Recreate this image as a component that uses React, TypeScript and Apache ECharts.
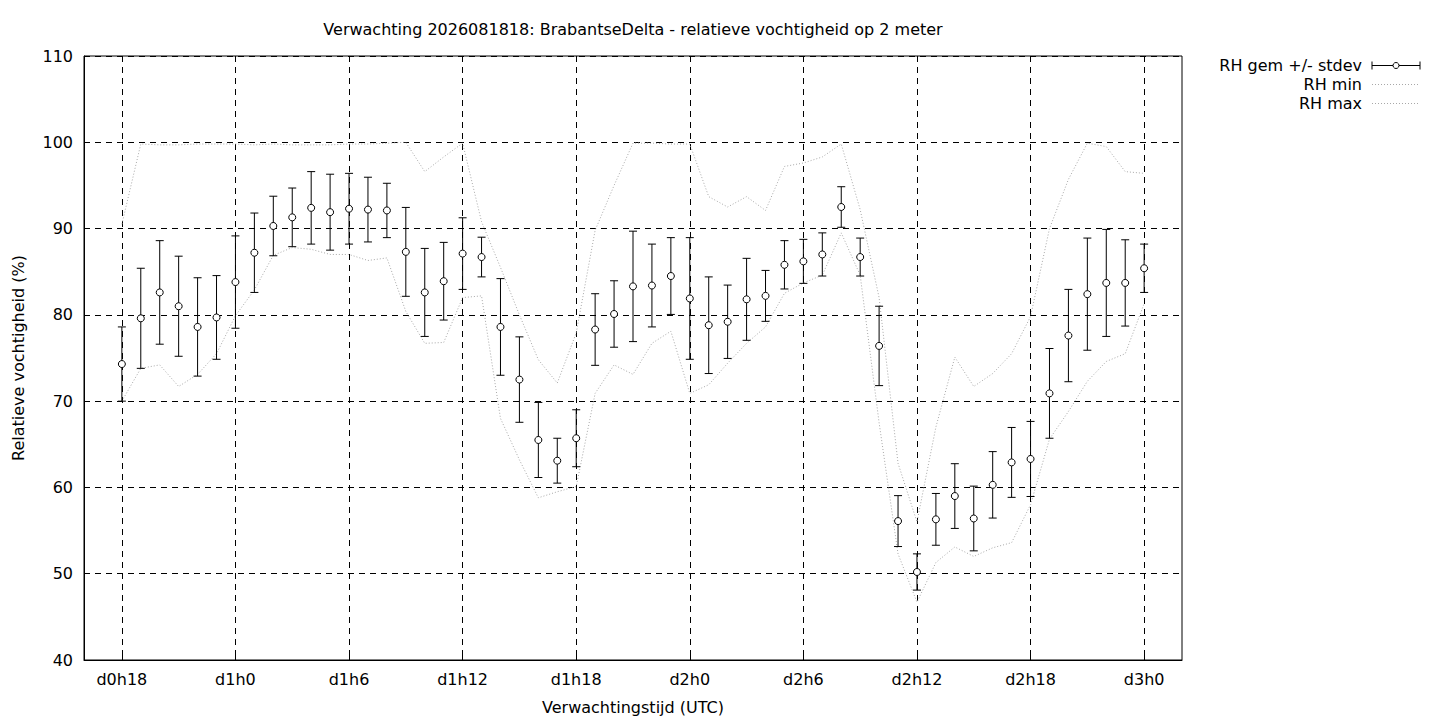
import React, { useEffect, useRef } from 'react';
import * as echarts from 'echarts';

// hours since d0h18
const hours = [
  0, 1, 2, 3, 4, 5, 6, 7, 8, 9, 10, 11, 12, 13, 14, 15, 16, 17, 18, 19,
  20, 21, 22, 23, 24, 25, 26, 27, 28, 29, 30, 31, 32, 33, 34, 35, 36, 37, 38, 39,
  40, 41, 42, 43, 44, 45, 46, 47, 48, 49, 50, 51, 52, 53, 54,
];

const tickHours = [0, 6, 12, 18, 24, 30, 36, 42, 48, 54];
const tickLabels = ['d0h18', 'd1h0', 'd1h6', 'd1h12', 'd1h18', 'd2h0', 'd2h6', 'd2h12', 'd2h18', 'd3h0'];

const rhMean = [
  74.3, 79.6, 82.6, 81.0, 78.6, 79.7, 83.8, 87.2, 90.3, 91.3,
  92.4, 91.9, 92.3, 92.2, 92.1, 87.3, 82.6, 83.9, 87.1, 86.7,
  78.6, 72.5, 65.5, 63.1, 65.7, 78.3, 80.1, 83.3, 83.4, 84.5,
  81.9, 78.8, 79.2, 81.8, 82.2, 85.8, 86.2, 87.0, 92.5, 86.7,
  76.4, 56.1, 50.2, 56.3, 59.0, 56.4, 60.3, 62.9, 63.3, 70.9,
  77.6, 82.4, 83.7, 83.7, 85.4,
];

const rhStdev = [
  4.3, 5.8, 6.0, 5.8, 5.7, 4.85, 5.35, 4.6, 3.45, 3.4,
  4.2, 4.4, 4.1, 3.75, 3.15, 5.15, 5.1, 4.5, 4.15, 2.3,
  5.6, 4.95, 4.35, 2.6, 3.3, 4.15, 3.85, 6.4, 4.8, 4.45,
  7.05, 5.6, 4.25, 4.75, 2.95, 2.8, 2.55, 2.5, 2.35, 2.2,
  4.6, 2.95, 2.1, 3.0, 3.75, 3.75, 3.85, 4.05, 4.35, 5.2,
  5.35, 6.5, 6.2, 5.0, 2.8,
];

const rhMin = [
  70.0, 73.8, 74.2, 71.7, 73.1, 75.5, 79.9, 82.9, 86.9, 87.8,
  87.6, 87.0, 87.0, 86.3, 86.6, 80.4, 76.7, 76.8, 82.0, 82.2,
  68.0, 63.2, 58.8, 59.5, 60.1, 70.9, 74.2, 73.1, 76.7, 78.1,
  70.9, 71.9, 74.4, 76.7, 78.6, 82.5, 83.7, 84.6, 89.5, 84.6,
  67.5, 52.3, 46.7, 51.3, 53.1, 52.0, 53.0, 53.6, 58.0, 65.6,
  68.8, 72.3, 74.6, 75.5, 81.3,
];

const rhMax = [
  90.5, 99.8, 99.7, 99.7, 99.8, 99.8, 99.8, 99.7, 99.8, 99.7,
  99.7, 99.7, 99.8, 99.8, 99.9, 100.0, 96.6, 98.3, 99.9, 90.8,
  85.5, 80.0, 74.8, 72.1, 77.9, 89.8, 95.0, 99.9, 99.9, 99.8,
  99.8, 93.7, 92.5, 93.7, 92.1, 97.2, 97.6, 98.3, 99.8, 92.2,
  82.0, 62.8, 56.0, 67.0, 75.1, 71.7, 73.2, 75.5, 79.8, 90.0,
  95.7, 99.9, 99.5, 96.6, 96.4,
];

const FONT = 'DejaVu Sans';
const FS = 16;
const TITLE = 'Verwachting 2026081818: BrabantseDelta - relatieve vochtigheid op 2 meter';
const legendNames = ['RH gem +/- stdev', 'RH min', 'RH max'];

const GRID = { left: 84, top: 56, width: 1098, height: 604 };
const DOT_COLOR = '#a8a8a8';
const DOT_DASH = [1, 2];
const GRID_DASH = [6, 5];

export default function App() {
  const ref = useRef<HTMLDivElement>(null);

  useEffect(() => {
    if (!ref.current) return;
    const chart = echarts.init(ref.current, undefined, { renderer: 'svg' });

    const errData = hours.map((h, i) => [h, rhMean[i] - rhStdev[i], rhMean[i] + rhStdev[i]]);
    const meanData = hours.map((h, i) => [h, rhMean[i]]);
    const minData = hours.map((h, i) => [h, rhMin[i]]);
    const maxData = hours.map((h, i) => [h, rhMax[i]]);

    const lx1 = 1372;
    const lx2 = 1420;
    const ltx = 1362;
    const ly = [65.5, 84.5, 103.5];
    const textStyle = (t: string, y: number) => ({
      type: 'text',
      x: ltx,
      y,
      style: {
        text: t,
        fill: '#000',
        fontSize: FS,
        fontFamily: FONT,
        align: 'right',
        verticalAlign: 'middle',
      },
    });

    const option: any = {
      animation: false,
      backgroundColor: '#fff',
      grid: {
        left: GRID.left,
        top: GRID.top,
        width: GRID.width,
        height: GRID.height,
        show: true,
        borderColor: '#000',
        borderWidth: 1,
        backgroundColor: 'transparent',
      },
      xAxis: {
        type: 'value',
        min: -2,
        max: 56,
        name: 'Verwachtingstijd (UTC)',
        nameLocation: 'middle',
        nameGap: 39,
        nameTextStyle: { color: '#000', fontSize: FS, fontFamily: FONT },
        axisLine: { show: true, onZero: false, lineStyle: { color: '#000', width: 1 } },
        axisTick: {
          show: true,
          inside: true,
          length: 6,
          customValues: tickHours,
          lineStyle: { color: '#000', width: 1 },
        },
        axisLabel: {
          customValues: tickHours,
          formatter: (v: number) => {
            const k = tickHours.indexOf(v);
            return k >= 0 ? tickLabels[k] : '';
          },
          margin: 11,
          color: '#000',
          fontSize: FS,
          fontFamily: FONT,
        },
        splitLine: {
          show: true,
          lineStyle: { color: '#000', width: 1, type: GRID_DASH },
        },
      },
      yAxis: {
        type: 'value',
        min: 40,
        max: 110,
        interval: 10,
        name: 'Relatieve vochtigheid (%)',
        nameLocation: 'middle',
        nameGap: 58,
        nameTextStyle: { color: '#000', fontSize: FS, fontFamily: FONT },
        axisLine: { show: true, onZero: false, lineStyle: { color: '#000', width: 1 } },
        axisTick: { show: true, inside: true, length: 6, lineStyle: { color: '#000', width: 1 } },
        axisLabel: { margin: 11, color: '#000', fontSize: FS, fontFamily: FONT },
        splitLine: {
          show: true,
          lineStyle: { color: '#000', width: 1, type: GRID_DASH },
        },
      },
      series: [
        {
          name: legendNames[1],
          type: 'line',
          data: minData,
          symbol: 'none',
          showSymbol: false,
          lineStyle: { color: DOT_COLOR, width: 1, type: DOT_DASH },
          z: 2,
          silent: true,
        },
        {
          name: legendNames[2],
          type: 'line',
          data: maxData,
          symbol: 'none',
          showSymbol: false,
          lineStyle: { color: DOT_COLOR, width: 1, type: DOT_DASH },
          z: 2,
          silent: true,
        },
        {
          name: legendNames[0],
          type: 'custom',
          data: errData,
          encode: { x: 0, y: [1, 2] },
          z: 3,
          silent: true,
          renderItem: (params: any, api: any) => {
            const x = api.value(0);
            const lo = api.coord([x, api.value(1)]);
            const hi = api.coord([x, api.value(2)]);
            const w = 4;
            const st = { stroke: '#000', lineWidth: 1 };
            return {
              type: 'group',
              children: [
                { type: 'line', shape: { x1: lo[0], y1: lo[1], x2: hi[0], y2: hi[1] }, style: st },
                { type: 'line', shape: { x1: lo[0] - w, y1: lo[1], x2: lo[0] + w, y2: lo[1] }, style: st },
                { type: 'line', shape: { x1: hi[0] - w, y1: hi[1], x2: hi[0] + w, y2: hi[1] }, style: st },
              ],
            };
          },
        },
        {
          name: 'RH gem',
          type: 'scatter',
          data: meanData,
          symbol: 'circle',
          symbolSize: 7,
          itemStyle: { color: '#fff', borderColor: '#000', borderWidth: 1, opacity: 1 },
          z: 4,
          silent: true,
        },
      ],
      graphic: [
        {
          type: 'text',
          x: GRID.left + GRID.width / 2,
          y: 29,
          style: {
            text: TITLE,
            fill: '#000',
            fontSize: FS,
            fontFamily: FONT,
            align: 'center',
            verticalAlign: 'middle',
          },
        },
        textStyle(legendNames[0], ly[0]),
        textStyle(legendNames[1], ly[1]),
        textStyle(legendNames[2], ly[2]),
        {
          type: 'line',
          shape: { x1: lx1, y1: ly[0], x2: lx2, y2: ly[0] },
          style: { stroke: '#000', lineWidth: 1 },
        },
        {
          type: 'line',
          shape: { x1: lx1, y1: ly[0] - 4, x2: lx1, y2: ly[0] + 4 },
          style: { stroke: '#000', lineWidth: 1 },
        },
        {
          type: 'line',
          shape: { x1: lx2, y1: ly[0] - 4, x2: lx2, y2: ly[0] + 4 },
          style: { stroke: '#000', lineWidth: 1 },
        },
        {
          type: 'circle',
          shape: { cx: (lx1 + lx2) / 2, cy: ly[0], r: 3 },
          style: { fill: '#fff', stroke: '#000', lineWidth: 1 },
        },
        {
          type: 'line',
          shape: { x1: lx1, y1: ly[1], x2: lx2, y2: ly[1] },
          style: { stroke: DOT_COLOR, lineWidth: 1, lineDash: DOT_DASH },
        },
        {
          type: 'line',
          shape: { x1: lx1, y1: ly[2], x2: lx2, y2: ly[2] },
          style: { stroke: DOT_COLOR, lineWidth: 1, lineDash: DOT_DASH },
        },
      ],
    };

    chart.setOption(option);
    return () => {
      chart.dispose();
    };
  }, []);

  return (
    <div
      ref={ref}
      style={{ position: 'fixed', left: 0, top: 0, width: 1440, height: 720, background: '#fff' }}
    />
  );
}
